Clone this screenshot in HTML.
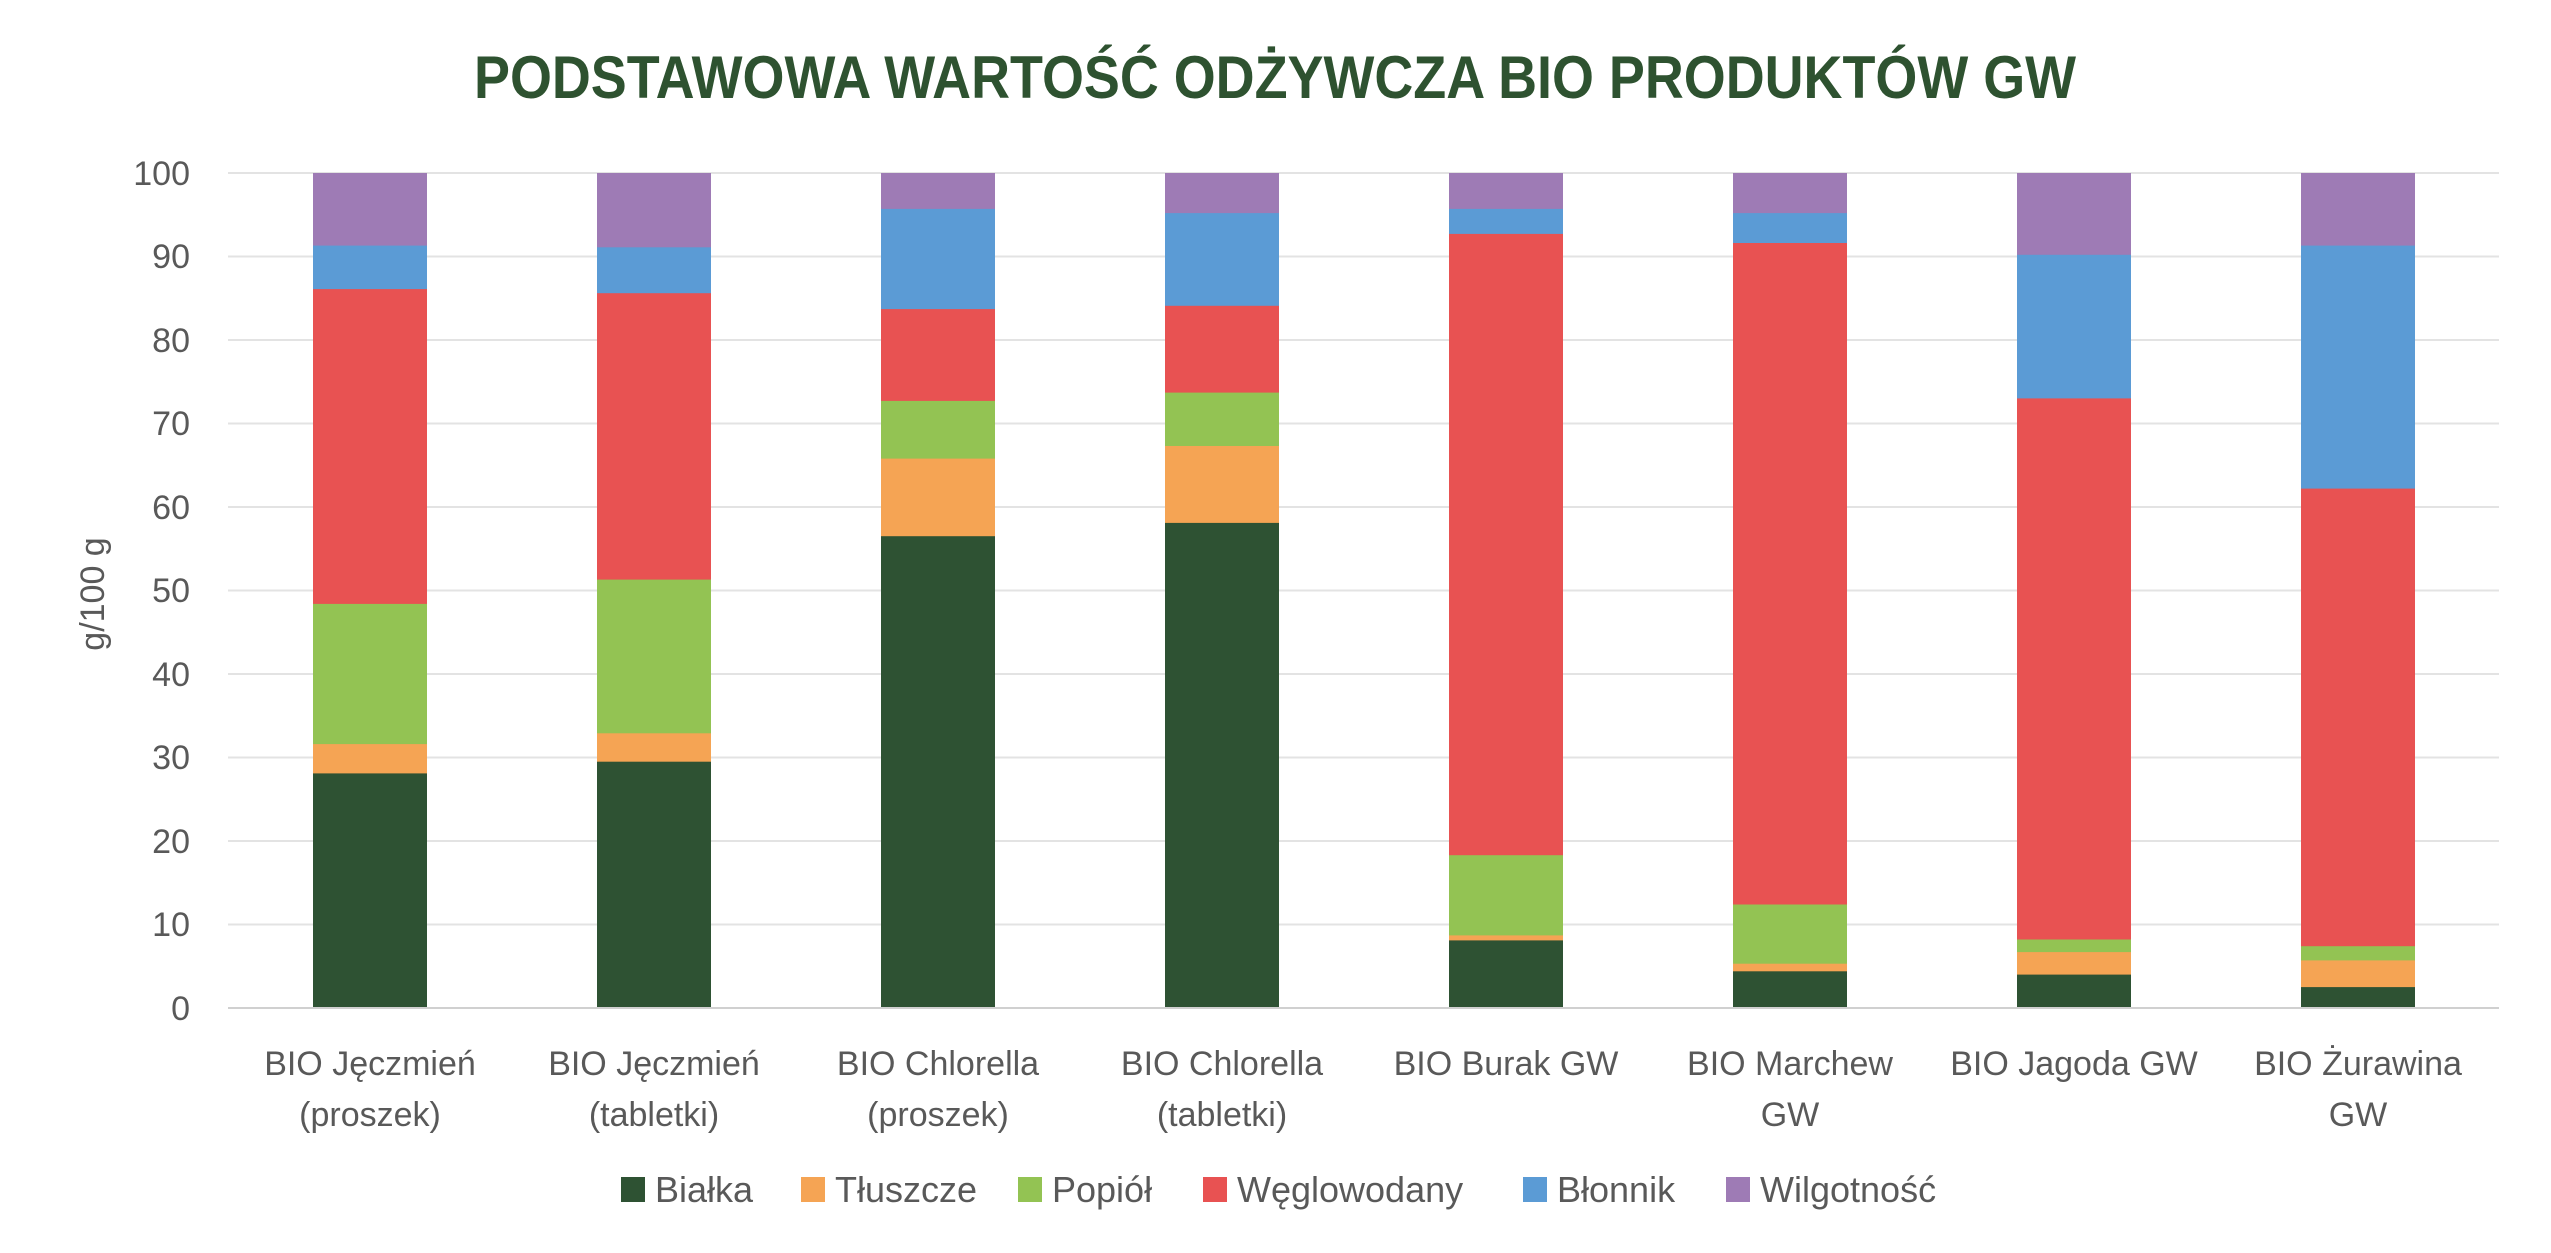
<!DOCTYPE html>
<html><head><meta charset="utf-8"><style>html,body{margin:0;padding:0;background:#fff}svg{display:block}</style></head>
<body>
<svg width="2551" height="1253" viewBox="0 0 2551 1253" xmlns="http://www.w3.org/2000/svg" font-family="'Liberation Sans', sans-serif">
<rect width="2551" height="1253" fill="#fff"/>
<text x="1275" y="98" text-anchor="middle" font-size="60" font-weight="bold" fill="#2e5230" textLength="1602" lengthAdjust="spacingAndGlyphs">PODSTAWOWA WARTOŚĆ ODŻYWCZA BIO PRODUKTÓW GW</text>
<g stroke="#e3e3e3" stroke-width="2">
<line x1="228" x2="2499" y1="173" y2="173"/><line x1="228" x2="2499" y1="256.5" y2="256.5"/><line x1="228" x2="2499" y1="340" y2="340"/><line x1="228" x2="2499" y1="423.5" y2="423.5"/><line x1="228" x2="2499" y1="507" y2="507"/><line x1="228" x2="2499" y1="590.5" y2="590.5"/><line x1="228" x2="2499" y1="674" y2="674"/><line x1="228" x2="2499" y1="757.5" y2="757.5"/><line x1="228" x2="2499" y1="841" y2="841"/><line x1="228" x2="2499" y1="924.5" y2="924.5"/>
</g>
<g font-size="34" fill="#595959" text-anchor="end">
<text x="190" y="185">100</text><text x="190" y="268">90</text><text x="190" y="352">80</text><text x="190" y="435">70</text><text x="190" y="519">60</text><text x="190" y="602">50</text><text x="190" y="686">40</text><text x="190" y="769">30</text><text x="190" y="853">20</text><text x="190" y="936">10</text><text x="190" y="1020">0</text>
</g>
<text transform="translate(104,594) rotate(-90)" text-anchor="middle" font-size="34" fill="#595959">g/100 g</text>
<g>
<!-- bar1 -->
<rect x="313" y="173" width="114" height="835" fill="#9e7bb5"/>
<rect x="313" y="245.6" width="114" height="762.4" fill="#5b9bd5"/>
<rect x="313" y="289.1" width="114" height="718.9" fill="#e85252"/>
<rect x="313" y="603.9" width="114" height="404.1" fill="#93c353"/>
<rect x="313" y="744.1" width="114" height="263.9" fill="#f5a454"/>
<rect x="313" y="773.4" width="114" height="234.6" fill="#2e5233"/>
<!-- bar2 -->
<rect x="597" y="173" width="114" height="835" fill="#9e7bb5"/>
<rect x="597" y="247.3" width="114" height="760.7" fill="#5b9bd5"/>
<rect x="597" y="293.2" width="114" height="714.8" fill="#e85252"/>
<rect x="597" y="579.6" width="114" height="428.4" fill="#93c353"/>
<rect x="597" y="733.3" width="114" height="274.7" fill="#f5a454"/>
<rect x="597" y="761.7" width="114" height="246.3" fill="#2e5233"/>
<!-- bar3 -->
<rect x="881" y="173" width="114" height="835" fill="#9e7bb5"/>
<rect x="881" y="208.9" width="114" height="799.1" fill="#5b9bd5"/>
<rect x="881" y="309.1" width="114" height="698.9" fill="#e85252"/>
<rect x="881" y="400.9" width="114" height="607.1" fill="#93c353"/>
<rect x="881" y="458.6" width="114" height="549.4" fill="#f5a454"/>
<rect x="881" y="536.2" width="114" height="471.8" fill="#2e5233"/>
<!-- bar4 -->
<rect x="1165" y="173" width="114" height="835" fill="#9e7bb5"/>
<rect x="1165" y="213.1" width="114" height="794.9" fill="#5b9bd5"/>
<rect x="1165" y="305.8" width="114" height="702.2" fill="#e85252"/>
<rect x="1165" y="392.6" width="114" height="615.4" fill="#93c353"/>
<rect x="1165" y="446" width="114" height="562" fill="#f5a454"/>
<rect x="1165" y="522.9" width="114" height="485.1" fill="#2e5233"/>
<!-- bar5 -->
<rect x="1449" y="173" width="114" height="835" fill="#9e7bb5"/>
<rect x="1449" y="208.9" width="114" height="799.1" fill="#5b9bd5"/>
<rect x="1449" y="233.9" width="114" height="774.1" fill="#e85252"/>
<rect x="1449" y="855.2" width="114" height="152.8" fill="#93c353"/>
<rect x="1449" y="935.4" width="114" height="72.6" fill="#f5a454"/>
<rect x="1449" y="940.4" width="114" height="67.6" fill="#2e5233"/>
<!-- bar6 -->
<rect x="1733" y="173" width="114" height="835" fill="#9e7bb5"/>
<rect x="1733" y="213.1" width="114" height="794.9" fill="#5b9bd5"/>
<rect x="1733" y="243" width="114" height="765" fill="#e85252"/>
<rect x="1733" y="904.5" width="114" height="103.5" fill="#93c353"/>
<rect x="1733" y="963.7" width="114" height="44.3" fill="#f5a454"/>
<rect x="1733" y="971.3" width="114" height="36.7" fill="#2e5233"/>
<!-- bar7 -->
<rect x="2017" y="173" width="114" height="835" fill="#9e7bb5"/>
<rect x="2017" y="254.8" width="114" height="753.2" fill="#5b9bd5"/>
<rect x="2017" y="398.4" width="114" height="609.6" fill="#e85252"/>
<rect x="2017" y="939.5" width="114" height="68.5" fill="#93c353"/>
<rect x="2017" y="952.1" width="114" height="55.9" fill="#f5a454"/>
<rect x="2017" y="974.6" width="114" height="33.4" fill="#2e5233"/>
<!-- bar8 -->
<rect x="2301" y="173" width="114" height="835" fill="#9e7bb5"/>
<rect x="2301" y="245.6" width="114" height="762.4" fill="#5b9bd5"/>
<rect x="2301" y="488.6" width="114" height="519.4" fill="#e85252"/>
<rect x="2301" y="946.2" width="114" height="61.8" fill="#93c353"/>
<rect x="2301" y="960.4" width="114" height="47.6" fill="#f5a454"/>
<rect x="2301" y="987.1" width="114" height="20.9" fill="#2e5233"/>
</g>
<line x1="228" x2="2499" y1="1008" y2="1008" stroke="#d0d0d0" stroke-width="2"/>
<g font-size="34" fill="#595959" text-anchor="middle">
<text x="370" y="1075">BIO Jęczmień</text><text x="370" y="1126">(proszek)</text>
<text x="654" y="1075">BIO Jęczmień</text><text x="654" y="1126">(tabletki)</text>
<text x="938" y="1075">BIO Chlorella</text><text x="938" y="1126">(proszek)</text>
<text x="1222" y="1075">BIO Chlorella</text><text x="1222" y="1126">(tabletki)</text>
<text x="1506" y="1075">BIO Burak GW</text>
<text x="1790" y="1075">BIO Marchew</text><text x="1790" y="1126">GW</text>
<text x="2074" y="1075">BIO Jagoda GW</text>
<text x="2358" y="1075">BIO Żurawina</text><text x="2358" y="1126">GW</text>
</g>
<g font-size="36" fill="#595959">
<rect x="621" y="1177" width="24" height="25" fill="#2e5233"/><text x="655" y="1202">Białka</text>
<rect x="801" y="1177" width="24" height="25" fill="#f5a454"/><text x="835" y="1202">Tłuszcze</text>
<rect x="1018" y="1177" width="24" height="25" fill="#93c353"/><text x="1052" y="1202">Popiół</text>
<rect x="1203" y="1177" width="24" height="25" fill="#e85252"/><text x="1237" y="1202">Węglowodany</text>
<rect x="1523" y="1177" width="24" height="25" fill="#5b9bd5"/><text x="1557" y="1202">Błonnik</text>
<rect x="1726" y="1177" width="24" height="25" fill="#9e7bb5"/><text x="1760" y="1202">Wilgotność</text>
</g>
</svg>
</body></html>
